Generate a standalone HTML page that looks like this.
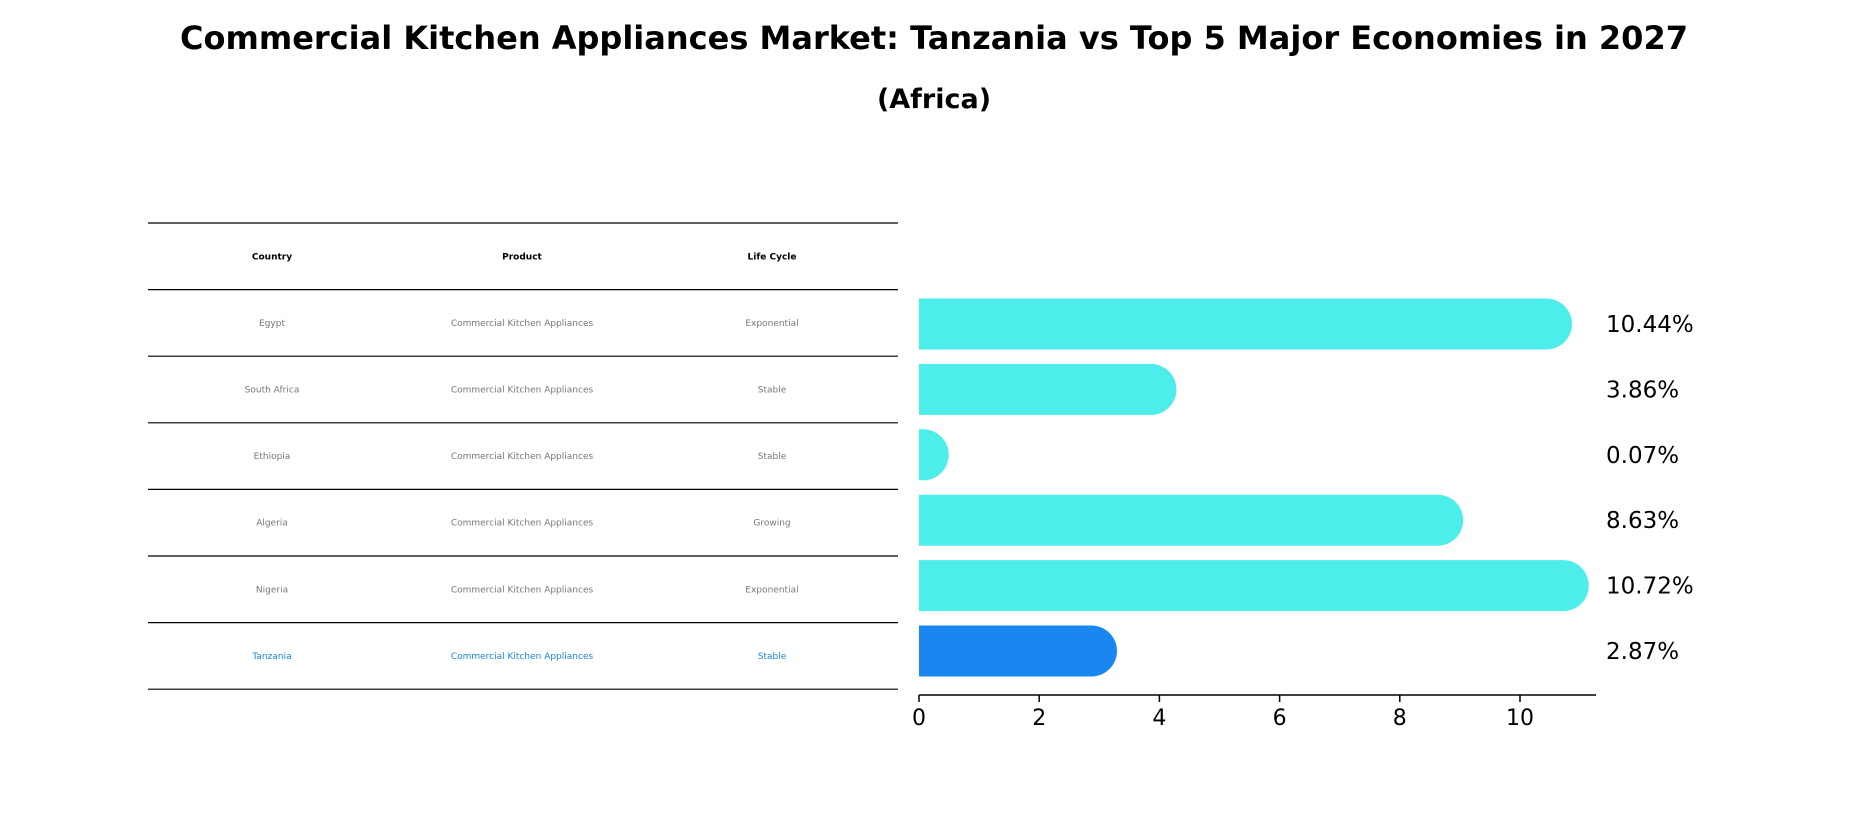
<!DOCTYPE html>
<html><head><meta charset="utf-8"><style>
body{margin:0;background:#fff;font-family:"Liberation Sans","DejaVu Sans",sans-serif}
</style></head><body>
<svg width="1869" height="823" viewBox="0 0 1869 823">
<text x="934" y="49" text-anchor="middle" font-size="32" font-weight="bold" font-family="DejaVu Sans, sans-serif">Commercial Kitchen Appliances Market: Tanzania vs Top 5 Major Economies in 2027</text>
<text x="934" y="108" text-anchor="middle" font-size="27" font-weight="bold" font-family="DejaVu Sans, sans-serif">(Africa)</text>
<g id="table"></g>
<g id="bars"></g>
</svg>
<script>
const countries=["Egypt","South Africa","Ethiopia","Algeria","Nigeria","Tanzania"];
const products=["Commercial Kitchen Appliances","Commercial Kitchen Appliances","Commercial Kitchen Appliances","Commercial Kitchen Appliances","Commercial Kitchen Appliances","Commercial Kitchen Appliances"];
const lifeCycles=["Exponential","Stable","Stable","Growing","Exponential","Stable"];
const values=[10.44,3.86,0.07,8.63,10.72,2.87];
const ticks=[0,2,4,6,8,10];
const NS="http://www.w3.org/2000/svg";
function mk(t,a,p){const e=document.createElementNS(NS,t);for(const k in a)e.setAttribute(k,a[k]);p.appendChild(e);return e;}
const tbl=document.getElementById('table'),bars=document.getElementById('bars');
const tx0=148,tx1=898,ty0=223,rowH=66.6;
const colX=[272,522,772];
for(let i=0;i<=countries.length+1;i++){const l=mk('line',{x1:tx0,x2:tx1,y1:ty0+i*rowH,y2:ty0+i*rowH,stroke:'#000','stroke-width':1.2},tbl);

}
["Country","Product","Life Cycle"].forEach((h,j)=>{const t=mk('text',{x:colX[j],y:ty0+rowH/2+3,'text-anchor':'middle','font-size':9,'font-weight':'bold','font-family':'DejaVu Sans, sans-serif'},tbl);t.textContent=h;

});
countries.forEach((c,i)=>{const col=i===countries.length-1?'#1a87d8':'#777';
[c,products[i],lifeCycles[i]].forEach((v,j)=>{const t=mk('text',{x:colX[j],y:ty0+(i+1.5)*rowH+3,'text-anchor':'middle','font-size':9,fill:col,'font-family':'DejaVu Sans, sans-serif'},tbl);t.textContent=v;

});});
const x0=919,xu=60.1,xs=v=>x0+v*xu;
const yc=i=>324+i*65.4,bh=51;
values.forEach((v,i)=>{const col=i===values.length-1?'#1a87f0':'#4deee9';
const w=xs(v)-x0,r=Math.min(bh/2,Math.max(w,0)),y=yc(i)-bh/2;
let d;
if(w<3){d=`M${x0},${y}h${Math.max(w,4)}v${bh}h${-Math.max(w,4)}Z`;}
else d=`M${x0},${y}H${xs(v)}A${bh/2},${bh/2} 0 0 1 ${xs(v)},${y+bh}H${x0}Z`;
const p=mk('path',{d:d,fill:col},bars);


const t=mk('text',{x:1606,y:yc(i)+8,'font-size':23,'font-family':'DejaVu Sans, sans-serif'},bars);t.textContent=v.toFixed(2)+'%';

});
const ax=mk('line',{x1:x0,x2:1596,y1:695,y2:695,stroke:'#000','stroke-width':1.5},bars);


ticks.forEach(t=>{const l=mk('line',{x1:xs(t),x2:xs(t),y1:695,y2:702,stroke:'#000','stroke-width':1.5},bars);


const tt=mk('text',{x:xs(t),y:725,'text-anchor':'middle','font-size':22,'font-family':'DejaVu Sans, sans-serif'},bars);tt.textContent=t;

});
</script>
</body></html>
